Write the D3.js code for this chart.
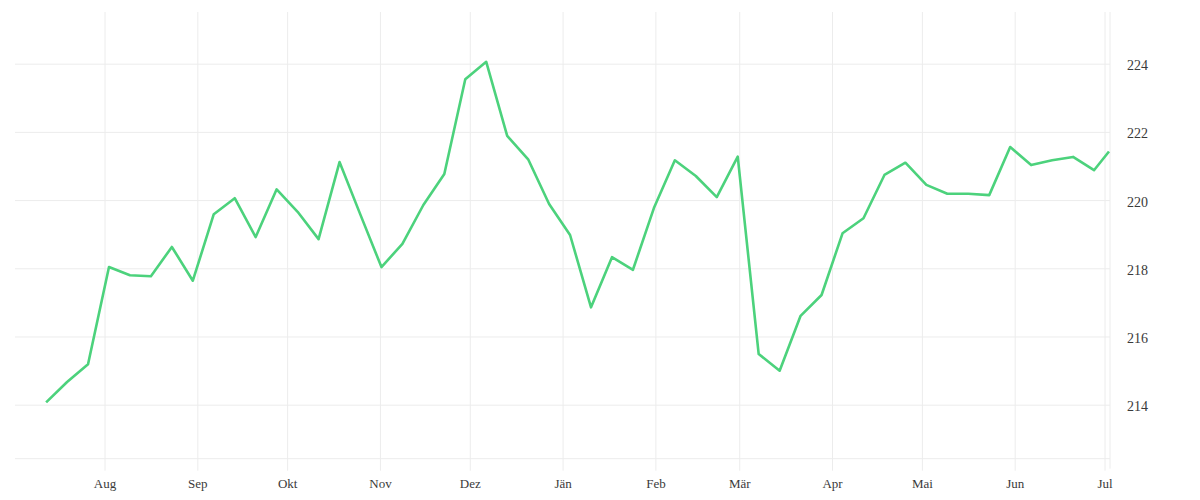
<!DOCTYPE html>
<html>
<head>
<meta charset="utf-8">
<script src="https://cdn.jsdelivr.net/npm/d3@7"></script>
<style>
  html, body { margin: 0; padding: 0; background: #fff; }
  svg { display: block; }
  .tick text { font-family: "Liberation Serif", serif; fill: #3a3a3a; }
</style>
</head>
<body>
<svg id="chart" width="1200" height="500"></svg>
<script>
// ---- data ----
const startDate = "2022-07-12T12:00:00Z"; // first weekly observation
const lastDate = "2023-07-02T12:00:00Z";  // final (partial-week) observation
const values = [
  214.08, 214.68, 215.20, 218.05, 217.81, 217.78, 218.64, 217.65, 219.60, 220.07,
  218.93, 220.33, 219.67, 218.87, 221.13, 219.58, 218.05, 218.73, 219.87, 220.78,
  223.56, 224.07, 221.90, 221.21, 219.90, 218.99, 216.87, 218.34, 217.97, 219.78,
  221.18, 220.72, 220.10, 221.29, 215.50, 215.01, 216.62, 217.23, 219.04, 219.48,
  220.75, 221.11, 220.46, 220.20, 220.20, 220.16, 221.57, 221.04, 221.18, 221.28,
  220.89, 221.44
];
const monthLabels = ["Aug", "Sep", "Okt", "Nov", "Dez", "Jän", "Feb", "Mär", "Apr", "Mai", "Jun", "Jul"];
const yTicks = [214, 216, 218, 220, 222, 224];

// build dates: weekly steps, last point is the partial week
const dates = values.map((v, i) => {
  if (i === values.length - 1) return new Date(lastDate);
  return d3.utcDay.offset(new Date(startDate), 7 * i);
});
const data = values.map((v, i) => ({ date: dates[i], value: v }));

// ---- layout ----
const svg = d3.select("#chart");
const mLeft = 15, mRight = 1110, mTop = 12, mBottom = 458.7;

const x = d3.scaleUtc()
  .domain([new Date("2022-07-02T02:34:00Z"), new Date("2023-07-02T20:05:00Z")])
  .range([mLeft, mRight]);
const y = d3.scaleLinear()
  .domain([212.43, 225.53])
  .range([mBottom, mTop]);

const monthTicks = d3.utcMonth.range(new Date("2022-08-01T00:00:00Z"), new Date("2023-07-02T00:00:00Z"));

const grid = "#ececec";

// vertical gridlines + month axis
const xAxis = d3.axisBottom(x)
  .tickValues(monthTicks)
  .tickFormat((d, i) => monthLabels[i])
  .tickSize(mBottom - mTop + 12)
  .tickPadding(8);
const gx = svg.append("g")
  .attr("transform", `translate(0,${mTop})`)
  .call(xAxis);
gx.select(".domain").remove();
gx.selectAll(".tick line").attr("stroke", grid).attr("stroke-width", 1);
gx.selectAll(".tick text").attr("font-size", 13).attr("dy", "0.71em");

// horizontal gridlines + right axis labels
const yAxis = d3.axisRight(y)
  .tickValues(yTicks)
  .tickFormat(d3.format("d"))
  .tickSize(0)
  .tickPadding(0);
const gy = svg.append("g")
  .attr("transform", `translate(${mRight + 17},0)`)
  .call(yAxis);
gy.select(".domain").remove();
gy.selectAll(".tick text").attr("font-size", 14).attr("dy", "0.4em");

svg.append("g").selectAll("line")
  .data(yTicks)
  .join("line")
  .attr("x1", mLeft).attr("x2", mRight)
  .attr("y1", d => y(d)).attr("y2", d => y(d))
  .attr("stroke", grid).attr("stroke-width", 1);

// bottom border & right border
svg.append("line")
  .attr("x1", mLeft).attr("x2", mRight)
  .attr("y1", y.range()[0]).attr("y2", y.range()[0])
  .attr("stroke", grid);
svg.append("line")
  .attr("x1", mRight).attr("x2", mRight)
  .attr("y1", mTop).attr("y2", mBottom + 10)
  .attr("stroke", grid);

// line
const line = d3.line()
  .x(d => x(d.date))
  .y(d => y(d.value));
svg.append("path")
  .datum(data)
  .attr("fill", "none")
  .attr("stroke", "#4cd27c")
  .attr("stroke-width", 2.6)
  .attr("stroke-linejoin", "round")
  .attr("d", line);
</script>
</body>
</html>
